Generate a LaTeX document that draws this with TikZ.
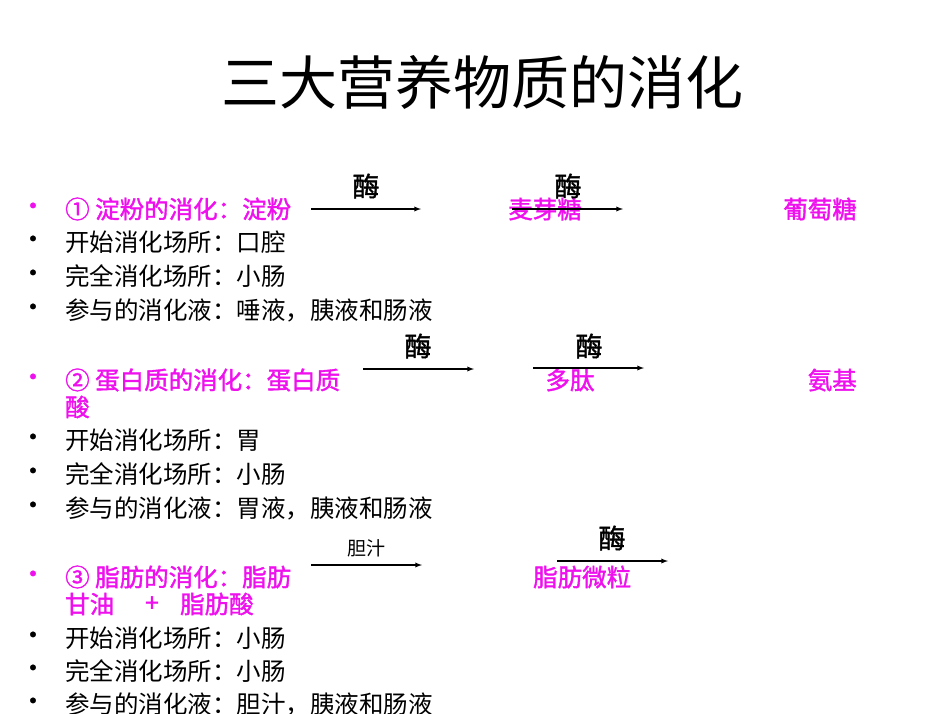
\documentclass[tikz,border=0pt]{standalone}
\usepackage{fontspec}
\setmainfont{Noto Sans CJK SC}[AutoFakeBold=1.5]
\begin{document}
\begin{tikzpicture}[x=1pt,y=-1pt,
 t/.style={anchor=west,inner sep=0,font=\fontsize{24.5}{24.5}\selectfont},
 m/.style={t,text=mag,font=\fontsize{24.5}{24.5}\selectfont\bfseries},
 bl/.style={anchor=center,inner sep=0,font=\fontsize{26}{26}\selectfont\bfseries},
 enz/.style={inner sep=0,font=\fontsize{27}{27}\selectfont\bfseries},
 ar/.style={-latex,line width=1.3pt}]
\definecolor{mag}{HTML}{EE11EE}
\useasboundingbox (0,0) rectangle (950,713);
\node[inner sep=0,font=\fontsize{58}{58}\selectfont] (title) at (482,82) {三大营养物质的消化};
% section 1
\node[bl,text=mag] (b1) at (33,209) {•};
\node[m] (s1) at (65,209) {① 淀粉的消化：淀粉};
\coordinate (a1s) at (311,209); \coordinate (a1e) at (421,209);
\draw[ar] (a1s) -- (a1e);
\node[enz] (e1) at (366,186) {酶};
\node[m,anchor=center] (p1) at (545,209) {麦芽糖};
\coordinate (a2s) at (512,209); \coordinate (a2e) at (623,209);
\draw[ar] (a2s) -- (a2e);
\node[enz] (e2) at (568,186) {酶};
\node[m,anchor=east] (g1) at (857,209) {葡萄糖};
\node[bl] (b2) at (33,242) {•}; \node[t] (l2) at (65,242) {开始消化场所：口腔};
\node[bl] (b3) at (33,276) {•}; \node[t] (l3) at (65,276) {完全消化场所：小肠};
\node[bl] (b4) at (33,310) {•}; \node[t] (l4) at (65,310) {参与的消化液：唾液，胰液和肠液};
% section 2
\node[bl,text=mag] (b5) at (33,380) {•};
\node[m] (s2) at (65,380) {② 蛋白质的消化：蛋白质};
\coordinate (a3s) at (363,369); \coordinate (a3e) at (474,369);
\draw[ar] (a3s) -- (a3e);
\node[enz] (e3) at (418,346) {酶};
\node[m,anchor=center] (p2) at (570,380) {多肽};
\coordinate (a4s) at (533,368); \coordinate (a4e) at (644,368);
\draw[ar] (a4s) -- (a4e);
\node[enz] (e4) at (589,346) {酶};
\node[m,anchor=east] (g2) at (857,380) {氨基};
\node[m] (g2b) at (65,407) {酸};
\node[bl] (b6) at (33,440) {•}; \node[t] (l6) at (65,440) {开始消化场所：胃};
\node[bl] (b7) at (33,474) {•}; \node[t] (l7) at (65,474) {完全消化场所：小肠};
\node[bl] (b8) at (33,508) {•}; \node[t] (l8) at (65,508) {参与的消化液：胃液，胰液和肠液};
% section 3
\node[bl,text=mag] (b9) at (33,577) {•};
\node[m] (s3) at (65,577) {③ 脂肪的消化：脂肪};
\coordinate (a5s) at (311,565); \coordinate (a5e) at (422,565);
\draw[ar] (a5s) -- (a5e);
\node[inner sep=0,font=\fontsize{19}{19}\selectfont] (bile) at (366,548) {胆汁};
\node[m] (p3) at (533,577) {脂肪微粒};
\coordinate (a6s) at (557,561); \coordinate (a6e) at (668,561);
\draw[ar] (a6s) -- (a6e);
\node[enz] (e6) at (612,538) {酶};
\node[m] (g3) at (65,604) {甘油};
\node[m,anchor=center] (plus) at (152,604) {+};
\node[m] (g3b) at (180,604) {脂肪酸};
\node[bl] (b10) at (33,638) {•}; \node[t] (l10) at (65,638) {开始消化场所：小肠};
\node[bl] (b11) at (33,671) {•}; \node[t] (l11) at (65,671) {完全消化场所：小肠};
\node[bl] (b12) at (33,704) {•}; \node[t] (l12) at (65,704) {参与的消化液：胆汁，胰液和肠液};
\end{tikzpicture}
\end{document}
